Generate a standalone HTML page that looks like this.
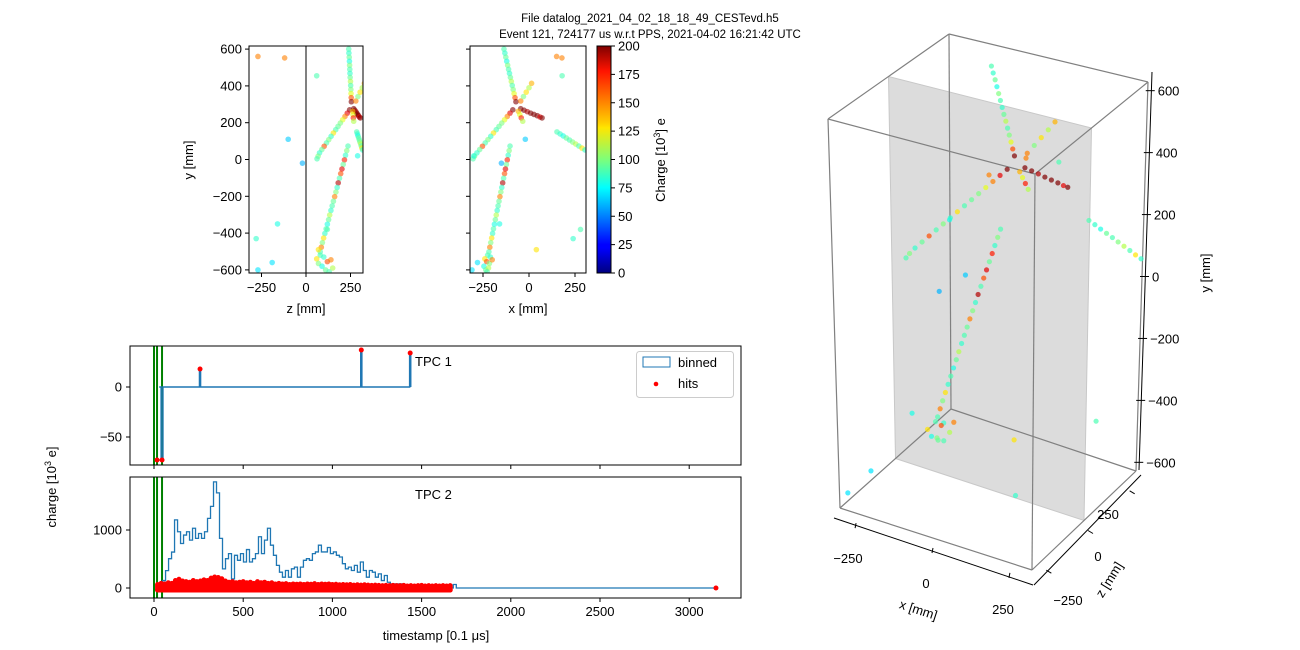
<!DOCTYPE html>
<html><head><meta charset="utf-8"><style>
html,body{margin:0;padding:0;background:#fff;}
svg{display:block;font-family:"Liberation Sans","DejaVu Sans",sans-serif;}
</style></head><body>
<svg id="fig" width="1300" height="650" viewBox="0 0 1300 650" xmlns="http://www.w3.org/2000/svg">
<text x="650" y="22" font-size="11.5" text-anchor="middle">File datalog_2021_04_02_18_18_49_CESTevd.h5</text>
<text x="650" y="38" font-size="11.5" text-anchor="middle">Event 121, 724177 us w.r.t PPS, 2021-04-02 16:21:42 UTC</text>
<defs>
<linearGradient id="jet" x1="0" y1="1" x2="0" y2="0">
<stop offset="0" stop-color="#00007f"/><stop offset="0.11" stop-color="#0000ff"/><stop offset="0.125" stop-color="#0000ff"/>
<stop offset="0.34" stop-color="#00dcff"/><stop offset="0.375" stop-color="#00ffff"/><stop offset="0.5" stop-color="#7dff7a"/>
<stop offset="0.64" stop-color="#ffe600"/><stop offset="0.66" stop-color="#ffd000"/><stop offset="0.89" stop-color="#ff1300"/><stop offset="1" stop-color="#7f0000"/>
</linearGradient>
<clipPath id="clipZY"><rect x="249" y="46" width="114" height="227"/></clipPath>
<clipPath id="clipXY"><rect x="470" y="46" width="116" height="227"/></clipPath>
<clipPath id="clipT1"><rect x="130" y="346" width="611" height="119"/></clipPath>
<clipPath id="clipT2"><rect x="130" y="477" width="611" height="121"/></clipPath>
</defs>
<g id="g3d"></g>
<g id="gzy"></g>
<g id="gxy"></g>
<g id="gcb"></g>
<g id="gt1"></g>
<g id="gt2"></g>
</svg>
<script>
// ---------- hit data (mm, 10^3 e) ----------
const hitX=[-136,-131,-126,-121,-116,-111,-106,-101,-96,-91,-86,-81,-76,-71,
-88,-103,-118,-133,-148,-163,-178,-193,-208,-223,-238,-253,-268,-283,-296,-304,
-45,-27,-9,9,27,45,60,71,
-45,-30,-15,0,14,
-58,-50,-42,-34,
152,169,186,203,220,237,254,271,288,304,
-103,-108,-113,-118,-123,-128,-133,-138,-143,-148,-153,-158,-163,-168,-173,-178,-183,-188,-193,-198,-203,-208,-213,-218,
-225,-240,-210,-230,-215,-245,-200,-235,-220,-228,
179,180,-310,-150,240,-20,280,150,-300,-280,40,-160];
const hitY=[600,578,556,534,512,490,468,446,424,402,380,358,336,314,
270,252,234,216,198,180,162,144,126,108,90,72,54,36,18,4,
276,268,260,252,245,238,231,226,
318,342,366,390,414,
262,244,226,208,
150,139,128,117,106,95,84,73,62,52,
73,48,23,-2,-27,-52,-77,-102,-127,-152,-177,-202,-227,-252,-277,-302,-327,-352,-377,-402,-427,-452,-477,-502,
-520,-540,-530,-555,-565,-580,-545,-600,-590,-610,
552,455,-600,-20,-430,110,-380,560,20,-560,-490,-350];
const hitZ=[240,241,243,244,245,246,247,248,250,251,252,253,254,255,
245,232,219,206,193,180,167,154,141,128,115,102,89,76,68,62,
268,274,280,285,290,295,300,305,
280,292,304,316,328,
262,264,266,268,
285,289,292,296,300,303,307,311,314,318,
236,229,222,216,209,202,195,188,181,175,168,161,154,147,140,133,127,120,113,106,99,92,86,80,
80,60,100,120,70,90,140,110,150,130,
-120,60,-270,-20,-280,-100,120,-270,290,-190,70,-160];
const hitQ=[90,85,95,80,100,90,85,95,110,90,100,120,160,200,
200,180,150,120,100,95,90,130,85,100,90,160,95,85,100,90,
200,200,190,200,200,200,180,200,
150,100,130,110,140,
140,120,170,110,
90,85,80,95,90,100,110,90,130,85,
90,100,85,170,95,180,160,90,190,85,100,150,95,90,85,110,95,80,90,85,130,100,150,90,
90,130,85,160,100,80,150,95,110,90,
150,90,70,60,85,65,90,150,80,70,130,80];
const cbTicks=[0,25,50,75,100,125,150,175,200];
const yTicks2d=[600,400,200,0,-200,-400,-600];
const hTicks2d=[-250,0,250];
// ---------- TPC data ----------
const trigT=[0,17,45];
const t1SpikeT=[258,1162,1436];
const t1SpikeQ=[18,37,34];
const t1HitT=[17,45,258,1162,1436];
const t1HitQ=[-73,-73,18,37,34];
const t2BinStart=48, t2BinW=16.8;
const t2BinQ=[128,300,505,620,1175,970,767,913,970,825,1030,855,940,855,970,1200,1407,1830,1640,855,330,505,593,157,564,477,593,448,663,448,505,593,884,593,825,1030,738,564,390,273,186,302,186,331,360,186,360,477,505,477,593,622,738,622,622,698,593,622,564,535,419,331,360,302,390,273,448,302,186,302,273,186,244,128,215,99,70,70,70,70,0,0,0,0,0,0,0,0,0,0,0,0,0,0,0,0,0,60,0];
const t2HitT=[20,40,60,80,100,120,140,160,180,200,220,240,260,280,300,320,340,360,380,400,420,440,460,480,500,520,540,560,580,600,620,640,660,680,700,720,740,760,780,800,820,840,860,880,900,920,940,960,980,1000,1020,1040,1060,1080,1100,1120,1140,1160,1180,1200,1220,1240,1260,1280,1300,1320,1340,1360,1380,1400,1420,1440,1460,1480,1500,1520,1540,1560,1580,1600,1620,1640,1660];
const t2HitQ=[60,80,70,90,80,130,150,120,110,100,130,110,120,140,130,170,190,180,160,120,100,110,90,100,110,90,100,80,110,90,100,80,90,70,80,70,75,60,70,65,70,60,70,65,75,60,70,65,70,60,65,55,60,55,60,50,55,50,55,50,45,50,45,40,45,40,45,40,40,45,35,40,35,40,45,35,40,35,40,35,40,35,40];
const t2LastHitT=3150, t2LastHitQ=0, t2LineEnd=3150;
const tTicks=[0,500,1000,1500,2000,2500,3000];

const NS="http://www.w3.org/2000/svg";
function mk(parent,tag,attrs,txt){const e=document.createElementNS(NS,tag);for(const k in attrs)e.setAttribute(k,attrs[k]);if(txt!==undefined)e.textContent=txt;parent.appendChild(e);return e;}
function jet(v){v=Math.max(0,Math.min(1,v));
 const r=Math.max(0,Math.min(1,Math.min(4*v-1.5,-4*v+4.5)));
 const g=Math.max(0,Math.min(1,Math.min(4*v-0.5,-4*v+3.5)));
 const b=Math.max(0,Math.min(1,Math.min(4*v+0.5,-4*v+2.5)));
 return `rgb(${Math.round(r*255)},${Math.round(g*255)},${Math.round(b*255)})`;}
const qCol=q=>jet(q/200);

// ---------- 2D views ----------
const yS=y=>159.5-y*0.184;
function view2d(g,left,right,x0,hs,hArr,xlabel,showY,clip){
 mk(g,'rect',{x:left,y:46,width:right-left,height:227,fill:'#fff'});
 const pts=mk(g,'g',{'clip-path':`url(#${clip})`});
 if(showY){const l=mk(pts,'line',{x1:x0,y1:46,x2:x0,y2:273,stroke:'#808080','stroke-width':2});
  
  }
 for(let i=0;i<hitX.length;i++){
  const h=(hArr===hitZ?hitZ[i]:hitX[i]);
  const c=mk(pts,'circle',{cx:x0+h*hs,cy:yS(hitY[i]),r:2.8,fill:qCol(hitQ[i]),'fill-opacity':0.6});
  
  
 }
 const fr=mk(g,'rect',{x:left,y:46,width:right-left,height:227,fill:'none',stroke:'#000','stroke-width':1});
 
 
 yTicks2d.forEach(v=>{mk(g,'line',{x1:left-4,y1:yS(v),x2:left,y2:yS(v),stroke:'#000'});
  if(showY){const t=mk(g,'text',{x:left-7,y:yS(v)+4.5,'font-size':13,'text-anchor':'end'},v===0?'0':(v<0?'\u2212'+(-v):''+v));
   
   }});
 hTicks2d.forEach(v=>{mk(g,'line',{x1:x0+v*hs,y1:273,x2:x0+v*hs,y2:277,stroke:'#000'});
  const t=mk(g,'text',{x:x0+v*hs,y:292,'font-size':13,'text-anchor':'middle'},v<0?'\u2212'+(-v):''+v);
  
  });
 const xl=mk(g,'text',{x:(left+right)/2,y:313,'font-size':13,'text-anchor':'middle'},xlabel);
 
 
}
view2d(document.getElementById('gzy'),249,363,306,0.178,hitZ,'z [mm]',true,'clipZY');
view2d(document.getElementById('gxy'),470,586,529,0.184,hitX,'x [mm]',false,'clipXY');
{const g=document.getElementById('gzy');
 const yl=mk(g,'text',{x:0,y:0,'font-size':13,'text-anchor':'middle',transform:'translate(193,160) rotate(-90)'},'y [mm]');
 
 }

// colorbar
{const g=document.getElementById('gcb');
 const r=mk(g,'rect',{x:597,y:46,width:14,height:227,fill:'url(#jet)',stroke:'#000'});
 
 
 cbTicks.forEach(v=>{const y=273-v/200*227;mk(g,'line',{x1:611,y1:y,x2:615,y2:y,stroke:'#000'});
  const t=mk(g,'text',{x:618,y:y+4.5,'font-size':13},''+v);
  
  });
 const l=mk(g,'text',{x:0,y:0,'font-size':13,'text-anchor':'middle',transform:'translate(665,160) rotate(-90)'});
 
 
 l.appendChild(document.createTextNode('Charge [10'));
 mk(l,'tspan',{'font-size':9,dy:-5},'3');
 mk(l,'tspan',{dy:5},'] e');}

// ---------- TPC panels ----------
const tX=t=>154+t*0.1784;
function frame(g,top,bot,labels){
 const r=mk(g,'rect',{x:130,y:top,width:611,height:bot-top,fill:'none',stroke:'#000'});
 
 
 tTicks.forEach(t=>{mk(g,'line',{x1:tX(t),y1:bot,x2:tX(t),y2:bot+4,stroke:'#000'});
  if(labels){const e=mk(g,'text',{x:tX(t),y:bot+18,'font-size':13,'text-anchor':'middle'},''+t);
   
   }});
}
function trig(g,top,bot,clip){trigT.forEach(t=>{const l=mk(g,'line',{x1:tX(t),y1:top,x2:tX(t),y2:bot,stroke:'#008000','stroke-width':2,'clip-path':`url(#${clip})`});
 
 });}
// TPC1
{const g=document.getElementById('gt1');const yq=q=>387-q*1.0;
 trig(g,346,465,'clipT1');
 let d=`M${tX(29)},${yq(0)} L${tX(40)},${yq(0)} L${tX(40)},${yq(-73)} L${tX(50)},${yq(-73)} L${tX(50)},${yq(0)}`;
 t1SpikeT.forEach((t,i)=>{d+=` L${tX(t-3)},${yq(0)} L${tX(t-3)},${yq(t1SpikeQ[i])} L${tX(t+3)},${yq(t1SpikeQ[i])} L${tX(t+3)},${yq(0)}`;});
 const p=mk(g,'path',{d,fill:'none',stroke:'#1f77b4','stroke-width':1.5,'clip-path':'url(#clipT1)'});
 
 
 t1HitT.forEach((t,i)=>{const c=mk(g,'circle',{cx:tX(t),cy:yq(t1HitQ[i]),r:2.5,fill:'#ff0000'});
  
  });
 frame(g,346,465,false);
 [0,-50].forEach(v=>{mk(g,'line',{x1:126,y1:yq(v),x2:130,y2:yq(v),stroke:'#000'});
  const e=mk(g,'text',{x:122,y:yq(v)+4.5,'font-size':13,'text-anchor':'end'},v<0?'\u2212'+(-v):''+v);
  
  });
 const tl=mk(g,'text',{x:415,y:366,'font-size':13},'TPC 1');
 
 
 const lg=mk(g,'g',{});
 
 
 mk(lg,'rect',{x:636.5,y:351.5,width:97,height:46,rx:3,fill:'#fff','fill-opacity':0.8,stroke:'#ccc'});
 mk(lg,'rect',{x:643,y:357,width:27,height:10,fill:'none',stroke:'#1f77b4'});
 const a=mk(lg,'text',{x:678,y:367,'font-size':13},'binned');
 
 
 mk(lg,'circle',{cx:656,cy:384,r:2.3,fill:'#ff0000'});
 const b=mk(lg,'text',{x:678,y:388,'font-size':13},'hits');
 
 }
// TPC2
{const g=document.getElementById('gt2');const yq=q=>588-q*0.058;
 trig(g,477,598,'clipT2');
 let d=`M${tX(20)},${yq(0)} L${tX(t2BinStart)},${yq(0)}`;
 t2BinQ.forEach((q,i)=>{const a=t2BinStart+i*t2BinW;d+=` L${tX(a)},${yq(q)} L${tX(a+t2BinW)},${yq(q)}`;});
 d+=` L${tX(t2BinStart+t2BinQ.length*t2BinW)},${yq(0)} L${tX(t2LineEnd)},${yq(0)}`;
 const p=mk(g,'path',{d,fill:'none',stroke:'#1f77b4','stroke-width':1.3});
 
 
 t2HitT.forEach((t,i)=>{const l=mk(g,'line',{x1:tX(t),y1:yq(-35),x2:tX(t),y2:yq(t2HitQ[i]),stroke:'#ff0000','stroke-width':5,'stroke-linecap':'round'});
  
  
  const l2=mk(g,'line',{x1:tX(t),y1:yq(-35),x2:tX(t+20<1670?t+20:t),y2:yq(-35),stroke:'#ff0000','stroke-width':5,'stroke-linecap':'round'});
  
  });
 const c=mk(g,'circle',{cx:tX(t2LastHitT),cy:yq(t2LastHitQ),r:2.5,fill:'#ff0000'});
 
 
 frame(g,477,598,true);
 [0,1000].forEach(v=>{mk(g,'line',{x1:126,y1:yq(v),x2:130,y2:yq(v),stroke:'#000'});
  const e=mk(g,'text',{x:122,y:yq(v)+4.5,'font-size':13,'text-anchor':'end'},''+v);
  
  });
 const tl=mk(g,'text',{x:415,y:499,'font-size':13},'TPC 2');
 
 
 const xl=mk(g,'text',{x:436,y:640,'font-size':13,'text-anchor':'middle'},'timestamp [0.1 \u03bcs]');
 
 
 const yl=mk(g,'text',{x:0,y:0,'font-size':13,'text-anchor':'middle',transform:'translate(56,487) rotate(-90)'});
 
 
 yl.appendChild(document.createTextNode('charge [10'));
 mk(yl,'tspan',{'font-size':9,dy:-5},'3');
 mk(yl,'tspan',{dy:5},' e]');}

// ---------- 3D view ----------
{const g=document.getElementById('g3d');
 const L=312,LY=628;
 const C={'---':[840,508],'+--':[1032,570],'++-':[1136,471],'-+-':[951,409],'--+':[828,119],'+-+':[1035,174],'+++':[1148,82],'-++':[949,34]};
 function P(x,y,z){const u=(x+L)/(2*L),w=(z+L)/(2*L),v=(y+LY)/(2*LY);let sx=0,sy=0;
  for(const a of [0,1])for(const b of [0,1])for(const c of [0,1]){const k=(a?'+':'-')+(b?'+':'-')+(c?'+':'-');
   const wt=(a?u:1-u)*(b?w:1-w)*(c?v:1-v);sx+=wt*C[k][0];sy+=wt*C[k][1];}return [sx,sy];}
 const pane=[P(-L,-LY,0),P(L,-LY,0),P(L,LY,0),P(-L,LY,0)];
 const pn=mk(g,'polygon',{points:pane.map(p=>p.join(',')).join(' '),fill:'#dcdcdc',stroke:'#c8c8c8'});
 
 
 const edges=[['---','+--'],['+--','++-'],['++-','-+-'],['-+-','---'],['--+','+-+'],['+-+','+++'],['+++','-++'],['-++','--+'],['---','--+'],['+--','+-+'],['++-','+++'],['-+-','-++']];
 edges.forEach(e=>{const l=mk(g,'line',{x1:C[e[0]][0],y1:C[e[0]][1],x2:C[e[1]][0],y2:C[e[1]][1],stroke:'#808080','stroke-width':1.2});
  
  });
 for(let i=0;i<hitX.length;i++){const p=P(hitX[i],hitY[i],hitZ[i]);
  const c=mk(g,'circle',{cx:p[0],cy:p[1],r:2.6,fill:qCol(hitQ[i]),'fill-opacity':0.7});
  
  }
 mk(g,'line',{x1:1152,y1:72,x2:1139,y2:470,stroke:'#000'});
 [600,400,200,0,-200,-400,-600].forEach(v=>{const p=P(L,v,L);const x=p[0]+4,y=p[1];
  mk(g,'line',{x1:x-6,y1:y,x2:x+3,y2:y,stroke:'#000'});
  const t=mk(g,'text',{x:x+6,y:y+5,'font-size':13},v<0?'\u2212'+(-v):''+v);
  
  });
 const yl=mk(g,'text',{x:0,y:0,'font-size':13,'text-anchor':'middle',transform:'translate(1210,273) rotate(-90)'},'y [mm]');
 
 
 mk(g,'line',{x1:834,y1:518,x2:1033,y2:585,stroke:'#000'});
 [-250,0,250].forEach((v,i)=>{const p=P(v,-LY,-L);const x=p[0]-3,y=p[1]+11;
  mk(g,'line',{x1:x,y1:y-2,x2:x-1,y2:y+3,stroke:'#000'});
  const t=mk(g,'text',{x:[848,926,1003][i],y:[563,588,614][i],'font-size':13,'text-anchor':'middle'},v<0?'\u2212'+(-v):''+v);
  
  });
 const xl=mk(g,'text',{x:0,y:0,'font-size':13,'text-anchor':'middle',transform:'translate(917,614) rotate(18)'},'x [mm]');
 
 
 mk(g,'line',{x1:1034,y1:585,x2:1141,y2:475,stroke:'#000'});
 [-250,0,250].forEach((v,i)=>{const p=P(L,-LY,v);const x=p[0]+6,y=p[1]+11;
  mk(g,'line',{x1:x-2,y1:y-1,x2:x+3,y2:y+2,stroke:'#000'});
  const t=mk(g,'text',{x:[1068,1098,1108][i],y:[605,561,519][i],'font-size':13,'text-anchor':'middle'},v<0?'\u2212'+(-v):''+v);
  
  });
 const zl=mk(g,'text',{x:0,y:0,'font-size':13,'text-anchor':'middle',transform:'translate(1113,582) rotate(-58)'},'z [mm]');
 
 }
</script>
</body></html>
